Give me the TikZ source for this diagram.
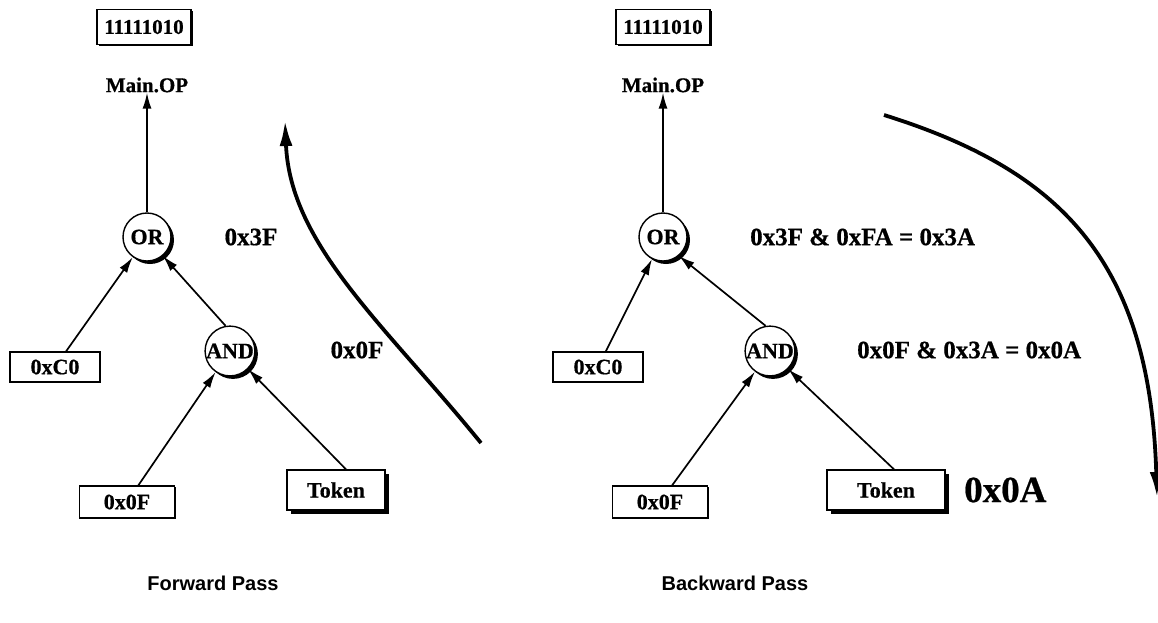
\documentclass[tikz,border=0pt]{standalone}
\usepackage{fontspec}
\setmainfont{Liberation Serif}
\newfontfamily\heavyfont[FakeBold=0.6]{Liberation Serif Bold}
\newfontfamily\capfont{Liberation Sans Bold}
\usetikzlibrary{arrows.meta,shadows}

\begin{document}
\begin{tikzpicture}[x=1pt,y=-1pt,
  lbl/.style={font=\heavyfont\fontsize{21}{23}\selectfont, inner sep=0pt},
  sidelbl/.style={font=\heavyfont\fontsize{25}{27}\selectfont, inner sep=0pt},
  biglbl/.style={font=\heavyfont\fontsize{37}{40}\selectfont, inner sep=0pt},
  caption/.style={font=\capfont\fontsize{20}{22}\selectfont, inner sep=0pt},
  maskbox/.style={lbl, draw, line width=1.3pt, fill=white, minimum width=94pt, minimum height=35pt,
    drop shadow={shadow xshift=1.5pt, shadow yshift=-1.5pt, fill=black, opacity=1}},
  constbox/.style={lbl, font=\heavyfont\fontsize{22}{24}\selectfont, draw, line width=1.3pt, fill=white,
    minimum width=90pt, minimum height=30pt,
    drop shadow={shadow xshift=1.2pt, shadow yshift=-1.2pt, fill=black, opacity=1}},
  tokbox/.style={lbl, font=\heavyfont\fontsize{22}{24}\selectfont, draw, line width=1.3pt, fill=white,
    minimum width=98pt, minimum height=40pt,
    drop shadow={shadow xshift=4pt, shadow yshift=-4pt, fill=black, opacity=1}},
  gate/.style={lbl, font=\heavyfont\fontsize{22}{24}\selectfont, circle, draw, line width=1.4pt,
    fill=white, minimum size=48pt,
    drop shadow={shadow xshift=3pt, shadow yshift=-3pt, fill=black, opacity=1}},
  conn/.style={line width=1.7pt, -{Latex[length=16pt,width=9pt]}},
  flow/.style={line width=3.8pt, -{Latex[length=26pt,width=13pt]}}
]
\useasboundingbox (0,0) rectangle (1158,622);

% ---------------- forward pass ----------------
\node[maskbox] (lmask) at (144,27) {11111010};
\node[lbl] (lop) at (147,85) {Main.OP};
\node[gate] (lor) at (147,237) {OR};
\node[gate] (land) at (230,351) {AND};
\node[constbox] (lc0) at (55,367) {0xC0};
\node[constbox, minimum width=95pt, minimum height=32pt] (l0f) at (127,502) {0x0F};
\node[tokbox] (ltok) at (336,490) {Token};
\node[sidelbl] (lorv) at (251,237) {0x3F};
\node[sidelbl] (landv) at (357,350) {0x0F};

\draw[conn] (lor) -- (lop);
\draw[conn] (lc0) -- (lor);
\draw[conn] (land.100) -- (lor.-50);
\draw[conn] (l0f) -- (land);
\draw[conn] ([xshift=10pt]ltok.north) -- (land.-45);

\coordinate (lfs) at (481,443);
\coordinate (lfe) at (285,120);
\draw[flow] (lfs) .. controls (385,325) and (290,245) .. (lfe);

\node[caption] (lcap) at (213,583) {Forward Pass};

% ---------------- backward pass ----------------
\node[maskbox] (rmask) at (663,27) {11111010};
\node[lbl] (rop) at (663,85) {Main.OP};
\node[gate] (ror) at (663,237) {OR};
\node[gate] (rand) at (770,351) {AND};
\node[constbox] (rc0) at (598,367) {0xC0};
\node[constbox, minimum width=95pt, minimum height=32pt] (r0f) at (660,502) {0x0F};
\node[tokbox, minimum width=118pt] (rtok) at (886,490) {Token};
\node[sidelbl, anchor=west] (rorv) at (750,237) {0x3F \& 0xFA = 0x3A};
\node[sidelbl, anchor=west] (randv) at (857,350) {0x0F \& 0x3A = 0x0A};
\node[biglbl, anchor=west] (rtokv) at (964,490) {0x0A};

\draw[conn] (ror) -- (rop);
\draw[conn] (rc0) -- (ror);
\draw[conn] (rand.100) -- (ror.-50);
\draw[conn] (r0f) -- (rand);
\draw[conn] ([xshift=8pt]rtok.north) -- (rand.-45);

\coordinate (rfs) at (884,115);
\coordinate (rfe) at (1157,498);
\draw[flow] (rfs) .. controls (1060,170) and (1150,260) .. (rfe);

\node[caption] (rcap) at (735,583) {Backward Pass};
\end{tikzpicture}
\end{document}
